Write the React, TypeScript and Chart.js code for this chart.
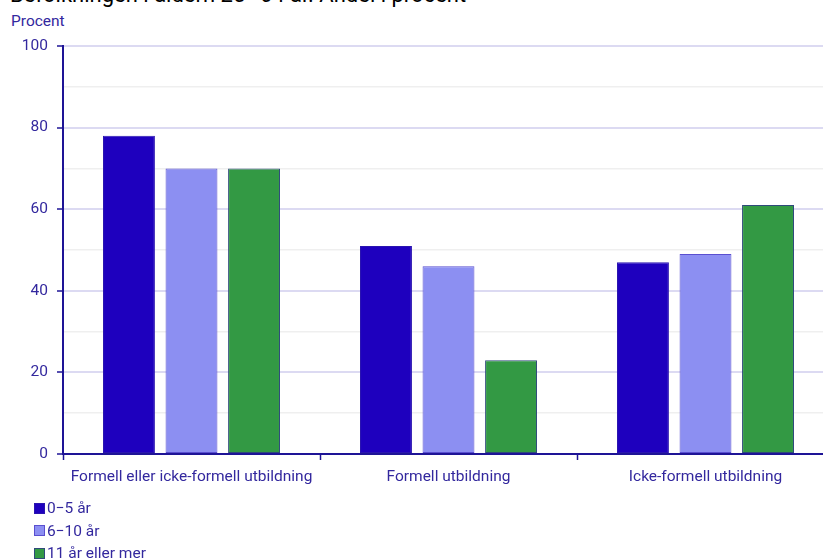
import React, { useEffect, useRef } from "react";
import { Chart, registerables } from "chart.js";

Chart.register(...registerables);

const categories = ["Formell eller icke-formell utbildning", "Formell utbildning", "Icke-formell utbildning"];
const seriesLabels = ["0\u22125 år", "6\u221210 år", "11 år eller mer"];
const values0to5 = [78, 51, 47];
const values6to10 = [70, 46, 49];
const values11plus = [70, 23, 61];
const yTicks = [0, 20, 40, 60, 80, 100];

const colors = ["#1E00BE", "#8C8FF2", "#339944"];
const borders = ["#2A14B0", "#5A4FD0", "#2F4A7A"];
const textColor = "#33289E";
const axisColor = "#1E1496";

export default function App() {
  const ref = useRef<HTMLCanvasElement | null>(null);

  useEffect(() => {
    if (!ref.current) return;
    document.body.style.margin = "0";
    document.body.style.overflow = "hidden";
    const font = { family: "Roboto", size: 15.5 };
    const seriesValues = [values0to5, values6to10, values11plus];
    const chart = new Chart(ref.current, {
      type: "bar",
      data: {
        labels: categories,
        datasets: seriesLabels.map((l, i) => ({
          label: l,
          data: seriesValues[i],
          backgroundColor: colors[i],
          borderColor: borders[i],
          borderWidth: 1,
          borderSkipped: false,
          categoryPercentage: 0.73,
          barPercentage: 0.83,
        })),
      },
      options: {
        animation: false,
        responsive: false,
        maintainAspectRatio: false,
        layout: { padding: { left: 0, top: 46, right: 26, bottom: 65 } },
        plugins: { legend: { display: false }, tooltip: { enabled: false }, title: { display: false } },
        scales: {
          x: {
            afterFit: (s: any) => { s.height = 40; },
            grid: {
              offset: true,
              drawOnChartArea: false,
              drawTicks: true,
              tickLength: 6,
              tickColor: axisColor,
              tickWidth: 1.5,
            },
            border: { color: axisColor, width: 2 },
            ticks: { color: textColor, font, padding: 8, maxRotation: 0, autoSkip: false },
          },
          y: {
            min: 0,
            max: 100,
            afterFit: (s: any) => { s.width = 63; },
            afterBuildTicks: (s: any) => {
              const t: any[] = [];
              for (let v = 0; v <= 100; v += 10) t.push({ value: v });
              s.ticks = t;
            },
            grid: {
              color: (c: any) => {
                const v = c.tick ? c.tick.value : 0;
                if (v === 0) return "rgba(0,0,0,0)";
                return yTicks.includes(v) ? "#DCDAF2" : "#EFEFEF";
              },
              lineWidth: (c: any) => (c.tick && yTicks.includes(c.tick.value) ? 2 : 1.5),
              tickColor: (c: any) => (c.tick && yTicks.includes(c.tick.value) ? axisColor : "rgba(0,0,0,0)"),
              tickLength: 6,
              tickWidth: 1.5,
            },
            border: { color: axisColor, width: 2 },
            ticks: {
              color: textColor,
              font,
              padding: 9,
              callback: (v: any) => (yTicks.includes(Number(v)) ? String(v) : ""),
            },
          },
        },
      },
    });
    return () => chart.destroy();
  }, []);

  return (
    <div style={{ position: "relative", width: 823, height: 559, overflow: "hidden", fontFamily: "Roboto" }}>
      <div style={{ position: "absolute", left: 10, top: -18, fontSize: 22, color: "#000", whiteSpace: "nowrap" }}>
        Befolkningen i åldern 25–64 år. Andel i procent
      </div>
      <div style={{ position: "absolute", left: 11, top: 12, fontSize: 15.5, color: textColor }}>Procent</div>
      <canvas ref={ref} width={860} height={559} style={{ position: "absolute", left: 0, top: 0 }} />
      <div style={{ position: "absolute", left: 34, top: 497, fontSize: 15.5, color: textColor, lineHeight: "22.5px" }}>
        {seriesLabels.map((l, i) => (
          <div key={l} style={{ display: "flex", alignItems: "center" }}>
            <span style={{ display: "inline-block", width: 9, height: 9, background: colors[i], border: `1px solid ${borders[i]}`, marginRight: 2 }} />
            {l}
          </div>
        ))}
      </div>
    </div>
  );
}
